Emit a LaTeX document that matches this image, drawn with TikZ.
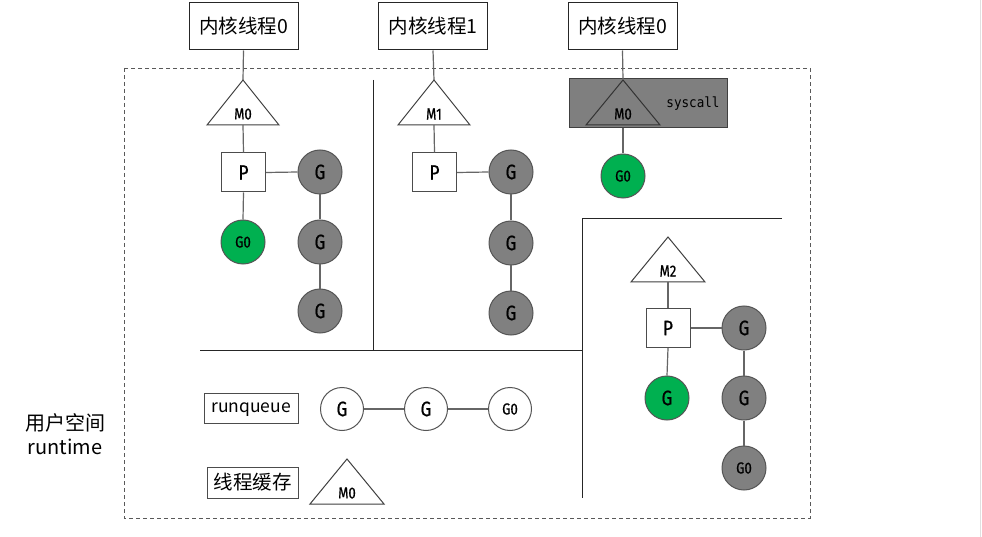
\documentclass[tikz,border=0pt]{standalone}
\usepackage{fontspec}
\setmainfont{Noto Sans CJK SC}
\newfontfamily\gmono[FakeStretch=0.82,FakeBold=0.6]{Fira Sans}
\newfontfamily\smono[FakeStretch=0.9]{DejaVu Sans Mono}
\definecolor{ggray}{HTML}{808080}
\definecolor{gedge}{HTML}{555555}
\definecolor{ggreen}{RGB}{0,176,80}
\definecolor{sysgray}{HTML}{7F7F7F}
\definecolor{lnk}{HTML}{666666}
\tikzset{
  kbox/.style={draw=black!85,line width=1pt,minimum width=109pt,minimum height=47pt,inner sep=0pt,font=\fontsize{19.5}{22}\selectfont},
  pbox/.style={draw=black!70,line width=1pt,fill=white,minimum width=44pt,minimum height=39pt,inner sep=0pt,font=\gmono\fontsize{21}{22}\selectfont},
  lbox/.style={draw=black!70,line width=1pt,fill=white,inner sep=0pt},
  gnode/.style={circle,draw=gedge,line width=1pt,minimum size=44pt,inner sep=0pt,font=\gmono\fontsize{21}{22}\selectfont},
  gray g/.style={gnode,fill=ggray},
  green g/.style={gnode,fill=ggreen},
  white g/.style={gnode,fill=white,minimum size=43pt},
  small/.style={font=\gmono\fontsize{16}{16}\selectfont},
  tri/.style={draw=black!75,line width=1pt,fill=white},
  systri/.style={draw=black!80,line width=1pt},
  mlab/.style={inner sep=0pt,font=\gmono\fontsize{16}{16}\selectfont},
  syslab/.style={inner sep=0pt,font=\smono\fontsize{14}{16}\selectfont},
  conn/.style={draw=lnk,line width=1.2pt},
  divider/.style={draw=black!85,line width=1pt},
}
\newcommand\mtri[6]{% name, x, apex y, half width, label, style
  \coordinate (#1-apex) at (#2,#3);
  \coordinate (#1-base) at (#2,#3+45);
  \draw[#6] (#2,#3) -- (#2-#4,#3+45) -- (#2+#4,#3+45) -- cycle;
  \node[mlab] (#1) at (#2,#3+34) {#5};}
\begin{document}
\begin{tikzpicture}[x=1pt,y=-1pt]
\useasboundingbox (0,0) rectangle (982,537);
\fill[white] (0,0) rectangle (982,537);
\draw[black!12,line width=1pt] (980.5,0) -- (980.5,537);
% outer dashed region
\draw[black!65,line width=0.9pt,dash pattern=on 4pt off 3pt] (124,68) rectangle (810,518);
% dividers
\draw[divider] (373,80) -- (373,350);
\draw[divider] (200,350.5) -- (582,350.5);
\draw[divider] (582,219) -- (582,498);
\draw[divider] (582,219) -- (782,219);
% syscall shade
\draw[fill=sysgray,draw=black!75,line width=1pt] (569,79) rectangle (727,128);
\node[syslab] (sys) at (693,104) {syscall};
% kernel threads
\node[kbox] (k0) at (243.5,26.5) {内核线程0};
\node[kbox] (k1) at (433,26.5) {内核线程1};
\node[kbox] (k2) at (622.5,26.5) {内核线程0};
% triangles
\mtri{m0}{243}{80}{36}{M0}{tri}
\mtri{m1}{434}{80}{36}{M1}{tri}
\mtri{m2}{623}{80}{37}{M0}{systri}
\mtri{m3}{668}{237}{37}{M2}{tri}
\mtri{m4}{347}{459}{37}{M0}{tri}
% column 1
\node[pbox] (p0) at (243.5,172.5) {P};
\node[green g,small] (a0) at (243,242) {G0};
\node[gray g] (a1) at (320,172) {G};
\node[gray g] (a2) at (320,242) {G};
\node[gray g] (a3) at (320,311) {G};
% column 2
\node[pbox] (p1) at (434.5,172.5) {P};
\node[gray g] (b1) at (511,172) {G};
\node[gray g] (b2) at (511,243) {G};
\node[gray g] (b3) at (511,313) {G};
% column 3
\node[green g,small] (c0) at (623,176) {G0};
% right region
\node[pbox] (p3) at (668,328) {P};
\node[green g] (d0) at (667,398) {G};
\node[gray g] (d1) at (744,328) {G};
\node[gray g] (d2) at (744,398) {G};
\node[gray g,small] (d3) at (744,468) {G0};
% runqueue
\node[lbox,minimum width=94pt,minimum height=30pt,text depth=0pt,font=\fontsize{17.5}{19}\selectfont] (rq) at (251,408) {runqueue};
\node[white g] (r1) at (342,409) {G};
\node[white g] (r2) at (426,409) {G};
\node[white g,small] (r3) at (510,409) {G0};
% thread cache
\node[lbox,minimum width=91pt,minimum height=31pt,font=\fontsize{19.5}{22}\selectfont] (tc) at (252.5,482.5) {线程缓存};
% side label
\node[align=center,font=\fontsize{20}{24}\selectfont,inner sep=0pt] (us) at (65,434) {用户空间\\runtime};
% connectors
\draw[conn] (k0.south) -- (m0-apex);
\draw[conn] (k1.south) -- (m1-apex);
\draw[conn] (k2.south) -- (m2-apex);
\draw[conn] (m0-base) -- (p0.north);
\draw[conn] (m1-base) -- (p1.north);
\draw[conn] (m3-base) -- (p3.north);
\draw[conn] (p0.south) -- (a0.north);
\draw[conn] (p0.east) -- (a1.west);
\draw[conn] (a1.south) -- (a2.north);
\draw[conn] (a2.south) -- (a3.north);
\draw[conn] (p1.east) -- (b1.west);
\draw[conn] (b1.south) -- (b2.north);
\draw[conn] (b2.south) -- (b3.north);
\draw[conn] (m2-base) ++(0,3) -- (c0.north);
\draw[conn] (p3.south) -- (d0.north);
\draw[conn] (p3.east) -- (d1.west);
\draw[conn] (d1.south) -- (d2.north);
\draw[conn] (d2.south) -- (d3.north);
\draw[conn] (r1.east) -- (r2.west);
\draw[conn] (r2.east) -- (r3.west);
\end{tikzpicture}
\end{document}
